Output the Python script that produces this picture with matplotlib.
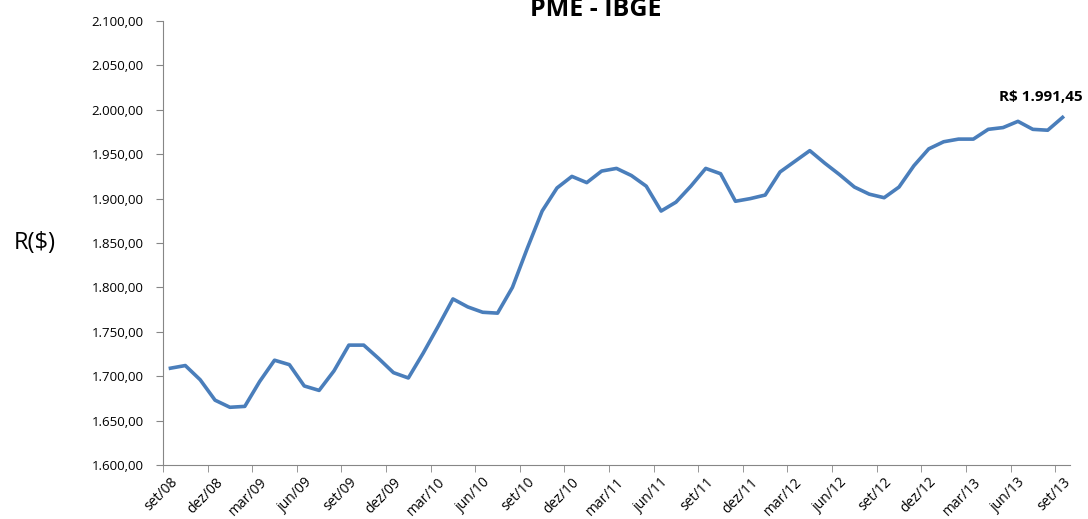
import numpy as np
import matplotlib.pyplot as plt
import matplotlib.transforms as mtransforms
from matplotlib.ticker import FuncFormatter

# Monthly values, set/08 .. set/13 (R$)
months = ["set/08", "out/08", "nov/08", "dez/08", "jan/09", "fev/09", "mar/09", "abr/09", "mai/09", "jun/09",
          "jul/09", "ago/09", "set/09", "out/09", "nov/09", "dez/09", "jan/10", "fev/10", "mar/10", "abr/10",
          "mai/10", "jun/10", "jul/10", "ago/10", "set/10", "out/10", "nov/10", "dez/10", "jan/11", "fev/11",
          "mar/11", "abr/11", "mai/11", "jun/11", "jul/11", "ago/11", "set/11", "out/11", "nov/11", "dez/11",
          "jan/12", "fev/12", "mar/12", "abr/12", "mai/12", "jun/12", "jul/12", "ago/12", "set/12", "out/12",
          "nov/12", "dez/12", "jan/13", "fev/13", "mar/13", "abr/13", "mai/13", "jun/13", "jul/13", "ago/13",
          "set/13"]
values = [1709, 1712, 1696, 1673, 1665, 1666, 1694, 1718, 1713, 1689,
          1684, 1706, 1735, 1735, 1720, 1704, 1698, 1726, 1756, 1787,
          1778, 1772, 1771, 1800, 1844, 1886, 1912, 1925, 1918, 1931,
          1934, 1926, 1914, 1886, 1896, 1914, 1934, 1928, 1897, 1900,
          1904, 1930, 1942, 1954, 1940, 1927, 1913, 1905, 1901, 1913,
          1937, 1956, 1964, 1967, 1967, 1978, 1980, 1987, 1978, 1977,
          1991.45]
title = "PME - IBGE"
ylabel = "R($)"

plt.rcParams['font.family'] = ['Open Sans', 'DejaVu Sans']

def br(v, pos=None):
    s = f"{v:,.2f}"
    return s.replace(",", "X").replace(".", ",").replace("X", ".")

fig = plt.figure(figsize=(10.88, 5.19), dpi=100)
ax = fig.add_axes([163 / 1088, 1 - 465 / 519, (1070 - 163) / 1088, (465 - 21) / 519])

x = np.arange(len(values))
ax.plot(x, values, color="#4A7EBB", linewidth=2.6, solid_joinstyle="round")

ax.set_xlim(-0.5, len(values) - 0.5)
ax.set_ylim(1600, 2100)
ax.set_yticks(np.arange(1600, 2101, 50))
ax.yaxis.set_major_formatter(FuncFormatter(br))

major = x[::3]
ax.set_xticks(major)
ax.set_xticklabels([months[i] for i in major], rotation=45, ha="right", va="top",
                   rotation_mode="anchor")
# shift the rotated labels a bit to the left, like the original
shift = mtransforms.ScaledTranslation(-5 / 100, 0, fig.dpi_scale_trans)
for lbl in ax.get_xticklabels():
    lbl.set_transform(lbl.get_transform() + shift)
ax.set_xticks(np.arange(-0.5, len(values), 3), minor=True)
ax.tick_params(axis="x", which="major", length=0, pad=7, labelsize=10, colors="#000000")
ax.tick_params(axis="x", which="minor", length=5, color="#868686", direction="out")
ax.tick_params(axis="y", length=5, color="#868686", pad=9, labelsize=9.5)

for side in ["top", "right"]:
    ax.spines[side].set_visible(False)
for side in ["left", "bottom"]:
    ax.spines[side].set_color("#868686")

ax.annotate("R$ " + br(values[-1]), xy=(x[-1], values[-1]), xytext=(-22, 20),
            textcoords="offset pixels", ha="center", va="center",
            fontsize=11, fontweight="bold")

fig.text(596 / 1088, 1 - 16 / 519, title, ha="center", va="baseline",
         fontsize=18, fontweight="bold")
fig.text(35 / 1088, 1 - 243 / 519, ylabel, ha="center", va="center", fontsize=17)

fig.savefig("out.png", dpi=100)
